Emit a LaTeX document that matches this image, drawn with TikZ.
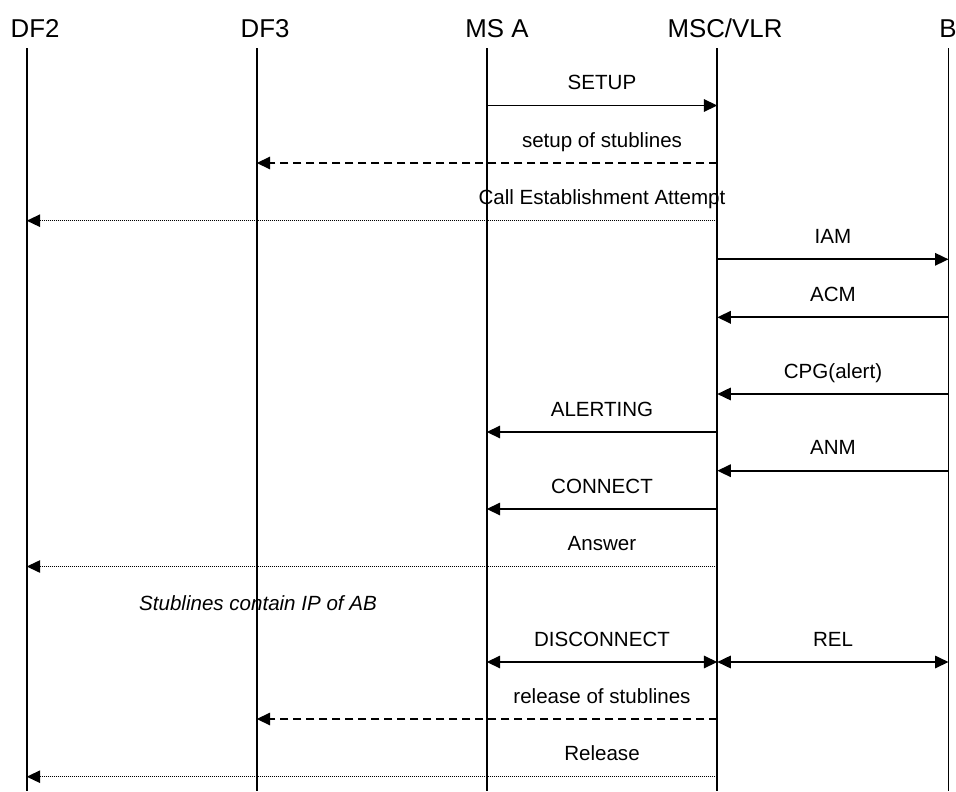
\documentclass[tikz,border=0pt]{standalone}
\usepackage{fontspec}
\setmainfont{Liberation Sans}
\usetikzlibrary{arrows.meta}

\begin{document}
\begin{tikzpicture}[x=0.02cm, y=-0.02cm,
    >={Triangle[length=0.27cm, width=0.25cm]},
    life/.style={line width=0.95pt},
    msg/.style={line width=0.95pt, ->},
    both/.style={line width=0.95pt, <->},
    stub/.style={line width=0.95pt, ->, dash pattern=on 0.16cm off 0.1cm},
    iri/.style={line width=0.75pt, ->, dash pattern=on 0.02cm off 0.02cm},
    head/.style={anchor=base, inner sep=0pt, font=\fontsize{14.7pt}{16pt}\selectfont},
    lbl/.style={anchor=base, inner sep=0pt, font=\fontsize{11.7pt}{13pt}\selectfont}]
  \useasboundingbox (0,0) rectangle (956,791);
  % lifelines
  \node[head] (DF2) at (35,37) {DF2};
  \node[head] (DF3) at (265,37) {DF3};
  \node[head] (MSA) at (497,37) {MS A};
  \node[head] (MSC) at (725,37) {MSC/VLR};
  \node[head] (B) at (948,37) {B};
  \coordinate (DF2t) at (26.7,48);
  \coordinate (DF2b) at (26.7,791);
  \coordinate (DF3t) at (256.7,48);
  \coordinate (DF3b) at (256.7,791);
  \coordinate (MSAt) at (486.7,48);
  \coordinate (MSAb) at (486.7,791);
  \coordinate (MSCt) at (717.3,48);
  \coordinate (MSCb) at (717.3,791);
  \coordinate (Bt) at (948.5,48);
  \coordinate (Bb) at (948.5,791);
  \draw[life] (DF2t) -- (DF2b);
  \draw[life] (DF3t) -- (DF3b);
  \draw[life] (MSAt) -- (MSAb);
  \draw[life] (MSCt) -- (MSCb);
  \draw[life] (Bt) -- (Bb);
  % call setup
  \coordinate (SETUPa) at (486.7,105.5);
  \coordinate (SETUPb) at (717.3,105.5);
  \coordinate (STUBa) at (717.3,163);
  \coordinate (STUBb) at (256.7,163);
  \coordinate (CEAa) at (717.3,220.7);
  \coordinate (CEAb) at (26.7,220.7);
  \coordinate (IAMa) at (717.3,259.3);
  \coordinate (IAMb) at (948.5,259.3);
  \coordinate (ACMa) at (948.5,317.3);
  \coordinate (ACMb) at (717.3,317.3);
  \coordinate (CPGa) at (948.5,394);
  \coordinate (CPGb) at (717.3,394);
  \coordinate (ALERTa) at (717.3,432);
  \coordinate (ALERTb) at (486.7,432);
  \coordinate (ANMa) at (948.5,470.7);
  \coordinate (ANMb) at (717.3,470.7);
  \coordinate (CONNa) at (717.3,509);
  \coordinate (CONNb) at (486.7,509);
  \coordinate (ANSa) at (717.3,566.5);
  \coordinate (ANSb) at (26.7,566.5);
  \node[lbl] (SETUP) at (602,89.5) {SETUP};
  \node[lbl] (STUB) at (602,147) {setup of stublines};
  \node[lbl] (CEA) at (602,204.7) {Call Establishment Attempt};
  \node[lbl] (IAM) at (833,243.3) {IAM};
  \node[lbl] (ACM) at (833,301.3) {ACM};
  \node[lbl] (CPG) at (833,378) {CPG(alert)};
  \node[lbl] (ALERT) at (602,416) {ALERTING};
  \node[lbl] (ANM) at (833,454.7) {ANM};
  \node[lbl] (CONN) at (602,493) {CONNECT};
  \node[lbl] (ANS) at (602,550.5) {Answer};
  \draw[msg] (SETUPa) -- (SETUPb);
  \draw[stub] (STUBa) -- (STUBb);
  \draw[iri] (CEAa) -- (CEAb);
  \draw[msg] (IAMa) -- (IAMb);
  \draw[msg] (ACMa) -- (ACMb);
  \draw[msg] (CPGa) -- (CPGb);
  \draw[msg] (ALERTa) -- (ALERTb);
  \draw[msg] (ANMa) -- (ANMb);
  \draw[msg] (CONNa) -- (CONNb);
  \draw[iri] (ANSa) -- (ANSb);
  \node[lbl, font=\fontsize{11.7pt}{13pt}\itshape] (NOTE) at (258,610) {Stublines contain IP of AB};
  % release
  \coordinate (DISCa) at (486.7,662);
  \coordinate (DISCb) at (717.3,662);
  \coordinate (RELa) at (717.3,662);
  \coordinate (RELb) at (948.5,662);
  \coordinate (RSTUBa) at (717.3,719);
  \coordinate (RSTUBb) at (256.7,719);
  \coordinate (RELSa) at (717.3,776.7);
  \coordinate (RELSb) at (26.7,776.7);
  \node[lbl] (DISC) at (602,646) {DISCONNECT};
  \node[lbl] (REL) at (833,646) {REL};
  \node[lbl] (RSTUB) at (602,703) {release of stublines};
  \node[lbl] (RELS) at (602,760.7) {Release};
  \draw[both] (DISCa) -- (DISCb);
  \draw[both] (RELa) -- (RELb);
  \draw[stub] (RSTUBa) -- (RSTUBb);
  \draw[iri] (RELSa) -- (RELSb);
\end{tikzpicture}
\end{document}
